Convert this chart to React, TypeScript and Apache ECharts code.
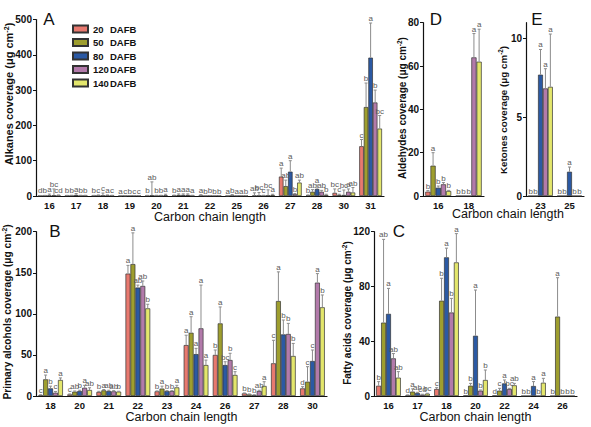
import React, { useEffect, useRef } from "react";
import * as echarts from "echarts";

const SERIES_NAMES = ["20 DAFB", "50 DAFB", "80 DAFB", "120 DAFB", "140 DAFB"];
const COLORS = ["#E8796F", "#9E9E2E", "#2B59A3", "#B27AAA", "#E3E66C"];

// Panel A: Alkanes
const A_CATS = ["16", "17", "18", "19", "20", "21", "22", "25", "26", "27", "28", "30", "31"];
const A_MEAN = [
  [0.5, 0.8, 0.8, 0.5, 0.8, 1.5, 0.8, 0.5, 1, 55, 2, 9, 141],
  [0.8, 1, 1, 0.5, 2, 3, 0.8, 1, 1, 28, 12, 3, 252],
  [1.5, 3, 1.5, 0.8, 1, 3, 1, 0.8, 1, 69, 20, 3, 392],
  [2, 1, 2, 0.8, 1, 3, 0.8, 0.8, 1.5, 5, 12, 12, 265],
  [1, 1, 1, 0.8, 2, 1, 0.8, 0.8, 3, 38, 3, 10, 191],
];
const A_SD = [
  [1, 1, 1, 0.5, 1, 1, 3, 0.5, 8, 24, 1, 11, 19],
  [1, 1, 2, 0.5, 38, 3, 0.5, 3, 9, 17, 6, 2, 68],
  [4, 4, 7, 0.5, 1, 3, 0.5, 0.5, 1, 31, 11, 14, 98],
  [18, 1, 1, 0.5, 1, 3, 0.5, 0.5, 16, 2, 4, 8, 35],
  [2, 1, 1, 0.5, 3, 1, 0.5, 0.5, 2, 7, 2, 14, 37],
];
const A_SIG = [
  ["d", "b", "b", "a", "b", "b", "a", "a", "ab", "a", "b", "bc", "c"],
  ["b", "b", "c", "c", "ab", "a", "b", "b", "bc", "ab", "ab", "c", "b"],
  ["a", "a", "c", "b", "b", "a", "b", "a", "c", "a", "a", "bc", "a"],
  ["bc", "b", "a", "c", "b", "a", "b", "a", "bc", "b", "ab", "a", "b"],
  ["cd", "b", "c", "c", "a", "a", "b", "b", "a", "ab", "b", "ab", "bc"],
];

// Panel D: Aldehydes
const D_CATS = ["16", "18"];
const D_MEAN = [[2, 0], [14, 0], [3.8, 0], [5.4, 64], [2.3, 62]];
const D_SD = [[0.5, 0], [6, 0], [0.8, 0], [0.8, 11], [0.3, 15]];
const D_SIG = [["b", "b"], ["a", "b"], ["b", "b"], ["b", "a"], ["b", "a"]];

// Panel E: Ketones
const E_CATS = ["23", "25"];
const E_MEAN = [[0, 0], [0, 0], [7.7, 1.54], [6.83, 0], [6.93, 0]];
const E_SD = [[0, 0], [0, 0], [1.6, 0.3], [1.25, 0], [3.35, 0]];
const E_SIG = [["b", "b"], ["b", "b"], ["a", "a"], ["a", "b"], ["a", "b"]];

// Panel B: Primary alcohols
const B_CATS = ["18", "20", "21", "22", "23", "24", "26", "27", "28", "30"];
const B_MEAN = [
  [1, 2, 4.9, 149, 5.7, 62, 50, 3.2, 39.8, 9.3],
  [20.3, 5.3, 6.9, 160.6, 9, 77, 88.4, 2, 115.6, 17.4],
  [9.3, 6, 6, 132, 6, 51, 37.7, 1.2, 75, 42.6],
  [4, 10, 5.7, 134, 6, 82.4, 43.8, 6, 75.5, 138],
  [19.5, 7.3, 5.3, 106.7, 10.5, 37.7, 25.6, 12.2, 48.7, 108],
];
const B_SD = [
  [0.5, 0.5, 0.8, 10, 0.5, 12, 6, 0.5, 28, 2],
  [5.2, 0.8, 1, 38, 3, 19.5, 20, 0.5, 35.5, 18.3],
  [2.7, 1, 1, 3, 0.5, 7, 4, 0.3, 17.5, 13.4],
  [1.5, 3, 0.8, 6, 0.5, 52.6, 8.2, 1, 12.9, 11],
  [2.5, 2.7, 0.5, 5, 2.5, 6, 4, 5.2, 15.3, 15],
];
const B_SIG = [
  ["c", "c", "b", "a", "b", "a", "b", "b", "c", "d"],
  ["a", "ab", "a", "a", "a", "a", "a", "b", "a", "c"],
  ["b", "b", "ab", "ab", "b", "a", "bc", "b", "b", "c"],
  ["c", "a", "ab", "ab", "b", "a", "b", "ab", "b", "a"],
  ["a", "ab", "b", "b", "a", "a", "c", "a", "b", "b"],
];

// Panel C: Fatty acids
const C_CATS = ["16", "17", "18", "20", "22", "24", "26"];
const C_MEAN = [
  [7.5, 0.5, 5.1, 0.3, 0.3, 0, 0],
  [53.6, 3.2, 69.6, 7.5, 3.9, 0, 58],
  [60, 2.2, 101.3, 44, 9.2, 7.3, 0],
  [27.5, 1, 61, 3.9, 5.1, 0, 0],
  [13.4, 1.7, 97.6, 11.7, 7.8, 9.7, 0],
];
const C_SD = [
  [3, 0.3, 1, 0, 0, 0, 0],
  [60.8, 2, 16.4, 1.7, 1.7, 0, 28.4],
  [18.6, 0.5, 6.7, 33.4, 2.5, 3.2, 0],
  [3.5, 0.3, 10.3, 0.5, 0.5, 0, 0],
  [4.4, 0.3, 21, 7.3, 1.4, 3.2, 0],
];
const C_SIG = [
  ["b", "d", "c", "b", "d", "b", "b"],
  ["ab", "a", "b", "b", "c", "b", "a"],
  ["a", "ab", "a", "a", "a", "a", "b"],
  ["ab", "cd", "b", "b", "bc", "b", "b"],
  ["ab", "bc", "a", "b", "ab", "a", "b"],
];

const FONT = "'Liberation Sans', Arial, Helvetica, sans-serif";
const CAT_GAP = 0.15;

type Panel = {
  key: string;
  cats: string[];
  mean: number[][];
  sd: number[][];
  sig: string[][];
  grid: { left: number; top: number; width: number; height: number };
  max: number;
  interval: number;
  ticks?: number[];
  xName: string;
  nameGap: number;
};

const PANELS: Panel[] = [
  { key: "A", cats: A_CATS, mean: A_MEAN, sd: A_SD, sig: A_SIG, grid: { left: 36, top: 19.5, width: 348, height: 176.5 }, max: 500, interval: 100, xName: "Carbon chain length", nameGap: 10.5 },
  { key: "D", cats: D_CATS, mean: D_MEAN, sd: D_SD, sig: D_SIG, grid: { left: 423, top: 22.7, width: 61, height: 173.3 }, max: 80, interval: 20, xName: "", nameGap: 10 },
  { key: "E", cats: E_CATS, mean: E_MEAN, sd: E_SD, sig: E_SIG, grid: { left: 526, top: 22.7, width: 58, height: 173.3 }, max: 11, interval: 5, ticks: [0, 5, 10], xName: "", nameGap: 10 },
  { key: "B", cats: B_CATS, mean: B_MEAN, sd: B_SD, sig: B_SIG, grid: { left: 36, top: 231.7, width: 291, height: 164.3 }, max: 200, interval: 50, xName: "Carbon chain length", nameGap: 14.5 },
  { key: "C", cats: C_CATS, mean: C_MEAN, sd: C_SD, sig: C_SIG, grid: { left: 374, top: 231.7, width: 203, height: 164.3 }, max: 120, interval: 40, xName: "Carbon chain length", nameGap: 14.5 },
];

const Y_NAMES = [
  { text: "Alkanes coverage (μg cm{s|-2})", x: 9, y: 94, size: 11 },
  { text: "Primary alcohols coverage (μg cm{s|-2})", x: 7, y: 312, size: 10.2 },
  { text: "Fatty acids coverage (μg cm{s|-2})", x: 347, y: 313, size: 10 },
  { text: "Aldehydes coverage (μg cm{s|-2})", x: 402, y: 108, size: 10 },
  { text: "Ketones coverage (μg cm{s|-2})", x: 503, y: 110, size: 9.8 },
];

const PANEL_LETTERS = [
  { text: "A", x: 49, y: 19 },
  { text: "B", x: 55, y: 231 },
  { text: "C", x: 399, y: 231 },
  { text: "D", x: 436, y: 19 },
  { text: "E", x: 537, y: 19 },
];

function makeRender(sig: string[][]) {
  return (params: any, api: any) => {
    const c = api.value(0);
    const s = api.value(1);
    const m = api.value(2);
    const e = api.value(3);
    const base = api.coord([c, 0]);
    const band = api.size([1, 0])[0];
    const bw = (band * (1 - CAT_GAP)) / 5;
    const x = base[0] + (s - 2) * bw;
    const yBar = api.coord([c, m])[1];
    const yTop = api.coord([c, m + e])[1];
    const children: any[] = [];
    if (e > 0) {
      children.push({
        type: "line",
        shape: { x1: x, y1: yBar, x2: x, y2: yTop },
        style: { stroke: "#8c8c8c", lineWidth: 1 },
      });
      children.push({
        type: "line",
        shape: { x1: x - 1.5, y1: yTop, x2: x + 1.5, y2: yTop },
        style: { stroke: "#8c8c8c", lineWidth: 1 },
      });
    }
    children.push({
      type: "text",
      x,
      y: Math.min(yTop, yBar) - 0.5,
      style: {
        text: sig[s][c],
        align: "center",
        verticalAlign: "bottom",
        fontSize: 8,
        fontFamily: FONT,
        fill: "#5a5a5a",
      },
    });
    return { type: "group", children };
  };
}

export default function App() {
  const ref = useRef<HTMLDivElement>(null);

  useEffect(() => {
    if (!ref.current) return;
    const chart = echarts.init(ref.current, undefined, { renderer: "svg" });

    const grid: any[] = [];
    const xAxis: any[] = [];
    const yAxis: any[] = [];
    const series: any[] = [];

    PANELS.forEach((p, pi) => {
      grid.push({ ...p.grid, containLabel: false });
      xAxis.push({
        type: "category",
        gridIndex: pi,
        data: p.cats,
        name: p.xName,
        nameLocation: "middle",
        nameGap: p.nameGap,
        nameTextStyle: { fontSize: 12.5, color: "#111", fontFamily: FONT },
        axisLine: { lineStyle: { color: "#111", width: 1.2 } },
        axisTick: { alignWithLabel: true, length: 3, lineStyle: { color: "#111" } },
        axisLabel: { fontSize: 9.5, fontWeight: "bold", color: "#111", margin: 4, fontFamily: FONT },
        splitLine: { show: false },
      });
      const yTickOpts: any = { show: true, length: 3, lineStyle: { color: "#111" } };
      const yLabelOpts: any = { fontSize: 10, fontWeight: "bold", color: "#111", margin: 4, fontFamily: FONT };
      if (p.ticks) {
        yTickOpts.customValues = p.ticks;
        yLabelOpts.customValues = p.ticks;
      }
      yAxis.push({
        type: "value",
        gridIndex: pi,
        min: 0,
        max: p.max,
        interval: p.interval,
        axisLine: { show: true, lineStyle: { color: "#111", width: 1.2 } },
        axisTick: yTickOpts,
        axisLabel: yLabelOpts,
        splitLine: { show: false },
      });
      for (let s = 0; s < 5; s++) {
        series.push({
          type: "bar",
          name: SERIES_NAMES[s],
          xAxisIndex: pi,
          yAxisIndex: pi,
          data: p.mean[s],
          barGap: "0%",
          barCategoryGap: `${CAT_GAP * 100}%`,
          itemStyle: { color: COLORS[s], borderColor: "#333", borderWidth: 0.7 },
        });
      }
      const errData: number[][] = [];
      for (let s = 0; s < 5; s++) {
        for (let c = 0; c < p.cats.length; c++) {
          errData.push([c, s, p.mean[s][c], p.sd[s][c]]);
        }
      }
      series.push({
        type: "custom",
        name: "err" + p.key,
        xAxisIndex: pi,
        yAxisIndex: pi,
        encode: { x: 0, y: 2 },
        renderItem: makeRender(p.sig),
        data: errData,
        z: 5,
        silent: true,
      });
    });

    const graphic: any[] = [];
    Y_NAMES.forEach((n) => {
      graphic.push({
        type: "text",
        x: n.x,
        y: n.y,
        rotation: Math.PI / 2,
        style: {
          text: n.text,
          fontSize: n.size,
          fontWeight: "bold",
          fontFamily: FONT,
          fill: "#111",
          align: "center",
          verticalAlign: "middle",
          rich: {
            s: { fontSize: n.size * 0.65, fontWeight: "bold", fontFamily: FONT, fill: "#111", verticalAlign: "top", padding: [0, 0, 5, 0] },
          },
        },
      });
    });
    PANEL_LETTERS.forEach((l) => {
      graphic.push({
        type: "text",
        x: l.x,
        y: l.y,
        style: {
          text: l.text,
          fontSize: 17,
          fontFamily: FONT,
          fill: "#111",
          align: "center",
          verticalAlign: "middle",
        },
      });
    });
    graphic.push({
      type: "text",
      x: 508,
      y: 214,
      style: {
        text: "Carbon chain length",
        fontSize: 12.5,
        fontFamily: FONT,
        fill: "#111",
        align: "center",
        verticalAlign: "middle",
      },
    });

    chart.setOption({
      animation: false,
      backgroundColor: "#ffffff",
      textStyle: { fontFamily: FONT },
      grid,
      xAxis,
      yAxis,
      series,
      graphic,
      legend: {
        data: SERIES_NAMES,
        orient: "vertical",
        left: 67,
        top: 19,
        itemWidth: 15,
        itemHeight: 7,
        itemGap: 3.5,
        icon: "rect",
        selectedMode: false,
        formatter: (name: string) => `{n|${name.split(" ")[0]}}{d|DAFB}`,
        textStyle: {
          fontSize: 9.5,
          fontWeight: "bold",
          color: "#111",
          fontFamily: FONT,
          rich: {
            n: { fontSize: 9.5, fontWeight: "bold", color: "#111", width: 17, fontFamily: FONT },
            d: { fontSize: 9.5, fontWeight: "bold", color: "#111", fontFamily: FONT },
          },
        },
      },
    });

    return () => chart.dispose();
  }, []);

  return (
    <div
      ref={ref}
      style={{ position: "fixed", left: 0, top: 0, width: 591, height: 427, background: "#fff" }}
    />
  );
}
